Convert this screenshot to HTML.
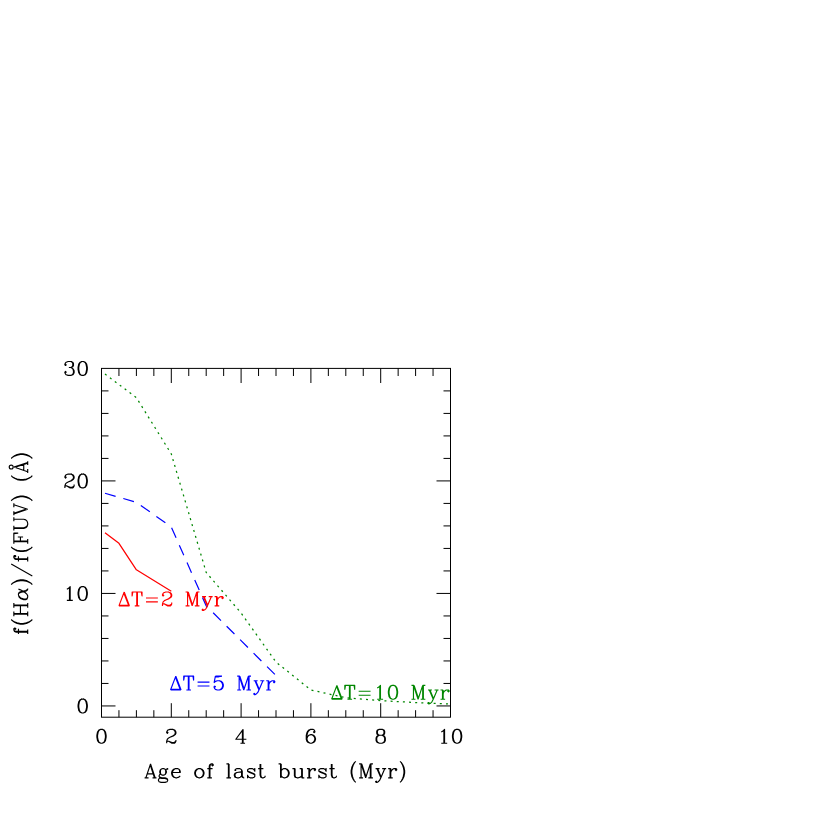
<!DOCTYPE html>
<html><head><meta charset="utf-8"><title>chart</title>
<style>html,body{margin:0;padding:0;background:#fff;font-family:"Liberation Sans",sans-serif}svg{display:block}</style>
</head><body>
<svg width="817" height="817" viewBox="0 0 817 817">
<rect width="817" height="817" fill="#fff"/>
<rect x="101.5" y="368.4" width="349.0" height="348.80" fill="none" stroke="#000" stroke-width="1"/>
<path d="M118.95 717.2 v-7 M118.95 368.4 v7.6 M136.40 717.2 v-7 M136.40 368.4 v7.6 M153.85 717.2 v-7 M153.85 368.4 v7.6 M171.30 717.2 v-14 M171.30 368.4 v14.6 M188.75 717.2 v-7 M188.75 368.4 v7.6 M206.20 717.2 v-7 M206.20 368.4 v7.6 M223.65 717.2 v-7 M223.65 368.4 v7.6 M241.10 717.2 v-14 M241.10 368.4 v14.6 M258.55 717.2 v-7 M258.55 368.4 v7.6 M276.00 717.2 v-7 M276.00 368.4 v7.6 M293.45 717.2 v-7 M293.45 368.4 v7.6 M310.90 717.2 v-14 M310.90 368.4 v14.6 M328.35 717.2 v-7 M328.35 368.4 v7.6 M345.80 717.2 v-7 M345.80 368.4 v7.6 M363.25 717.2 v-7 M363.25 368.4 v7.6 M380.70 717.2 v-14 M380.70 368.4 v14.6 M398.15 717.2 v-7 M398.15 368.4 v7.6 M415.60 717.2 v-7 M415.60 368.4 v7.6 M433.05 717.2 v-7 M433.05 368.4 v7.6 M101.5 705.95 h14 M450.5 705.95 h-14 M101.5 683.45 h7 M450.5 683.45 h-7 M101.5 660.94 h7 M450.5 660.94 h-7 M101.5 638.44 h7 M450.5 638.44 h-7 M101.5 615.94 h7 M450.5 615.94 h-7 M101.5 593.43 h14 M450.5 593.43 h-14 M101.5 570.93 h7 M450.5 570.93 h-7 M101.5 548.43 h7 M450.5 548.43 h-7 M101.5 525.92 h7 M450.5 525.92 h-7 M101.5 503.42 h7 M450.5 503.42 h-7 M101.5 480.92 h14 M450.5 480.92 h-14 M101.5 458.41 h7 M450.5 458.41 h-7 M101.5 435.91 h7 M450.5 435.91 h-7 M101.5 413.41 h7 M450.5 413.41 h-7 M101.5 390.90 h7 M450.5 390.90 h-7" fill="none" stroke="#000" stroke-width="1.0"/>
<path d="M104.99 532.67 L118.95 543.36 L136.40 569.80 L171.30 591.18" fill="none" stroke="#f00" stroke-width="1.25" stroke-linejoin="round"/>
<path d="M104.99 493.29 L136.40 502.29 L171.30 527.05 L206.20 605.81 L241.10 640.69 L276.00 675.57" fill="none" stroke="#00f" stroke-width="1.2" stroke-dasharray="11.05 8"/>
<path d="M104.99 374.03 L136.40 397.65 L171.30 453.91 L206.20 572.50 L241.10 613.01 L276.00 662.07 L310.90 689.97 L345.80 697.73 L380.70 700.66 L415.60 702.57 L450.50 704.04" fill="none" stroke="#008600" stroke-width="1.25" stroke-dasharray="2 4.16"/>
<path d="M100.84 729.34 L98.86 730.00 L97.54 731.98 L96.88 735.28 L96.88 737.26 L97.54 740.56 L98.86 742.54 L100.84 743.20 L102.16 743.20 L104.14 742.54 L105.46 740.56 L106.12 737.26 L106.12 735.28 L105.46 731.98 L104.14 730.00 L102.16 729.34 L100.84 729.34 M100.84 729.34 L99.52 730.00 L98.86 730.66 L98.20 731.98 L97.54 735.28 L97.54 737.26 L98.20 740.56 L98.86 741.88 L99.52 742.54 L100.84 743.20 M102.16 743.20 L103.48 742.54 L104.14 741.88 L104.80 740.56 L105.46 737.26 L105.46 735.28 L104.80 731.98 L104.14 730.66 L103.48 730.00 L102.16 729.34" fill="none" stroke="#000" stroke-width="1.15" stroke-linecap="butt" stroke-linejoin="round"/>
<path d="M167.34 731.98 L168.00 732.64 L167.34 733.30 L166.68 732.64 L166.68 731.98 L167.34 730.66 L168.00 730.00 L169.98 729.34 L172.62 729.34 L174.60 730.00 L175.26 730.66 L175.92 731.98 L175.92 733.30 L175.26 734.62 L173.28 735.94 L169.98 737.26 L168.66 737.92 L167.34 739.24 L166.68 741.22 L166.68 743.20 M172.62 729.34 L173.94 730.00 L174.60 730.66 L175.26 731.98 L175.26 733.30 L174.60 734.62 L172.62 735.94 L169.98 737.26 M166.68 741.88 L167.34 741.22 L168.66 741.22 L171.96 742.54 L173.94 742.54 L175.26 741.88 L175.92 741.22 M168.66 741.22 L171.96 743.20 L174.60 743.20 L175.26 742.54 L175.92 741.22 L175.92 739.90" fill="none" stroke="#000" stroke-width="1.15" stroke-linecap="butt" stroke-linejoin="round"/>
<path d="M242.42 730.66 L242.42 743.20 M243.08 729.34 L243.08 743.20 M243.08 729.34 L235.82 739.24 L246.38 739.24 M240.44 743.20 L245.06 743.20" fill="none" stroke="#000" stroke-width="1.15" stroke-linecap="butt" stroke-linejoin="round"/>
<path d="M314.20 731.32 L313.54 731.98 L314.20 732.64 L314.86 731.98 L314.86 731.32 L314.20 730.00 L312.88 729.34 L310.90 729.34 L308.92 730.00 L307.60 731.32 L306.94 732.64 L306.28 735.28 L306.28 739.24 L306.94 741.22 L308.26 742.54 L310.24 743.20 L311.56 743.20 L313.54 742.54 L314.86 741.22 L315.52 739.24 L315.52 738.58 L314.86 736.60 L313.54 735.28 L311.56 734.62 L310.90 734.62 L308.92 735.28 L307.60 736.60 L306.94 738.58 M310.90 729.34 L309.58 730.00 L308.26 731.32 L307.60 732.64 L306.94 735.28 L306.94 739.24 L307.60 741.22 L308.92 742.54 L310.24 743.20 M311.56 743.20 L312.88 742.54 L314.20 741.22 L314.86 739.24 L314.86 738.58 L314.20 736.60 L312.88 735.28 L311.56 734.62" fill="none" stroke="#000" stroke-width="1.15" stroke-linecap="butt" stroke-linejoin="round"/>
<path d="M379.38 729.34 L377.40 730.00 L376.74 731.32 L376.74 733.30 L377.40 734.62 L379.38 735.28 L382.02 735.28 L384.00 734.62 L384.66 733.30 L384.66 731.32 L384.00 730.00 L382.02 729.34 L379.38 729.34 M379.38 729.34 L378.06 730.00 L377.40 731.32 L377.40 733.30 L378.06 734.62 L379.38 735.28 M382.02 735.28 L383.34 734.62 L384.00 733.30 L384.00 731.32 L383.34 730.00 L382.02 729.34 M379.38 735.28 L377.40 735.94 L376.74 736.60 L376.08 737.92 L376.08 740.56 L376.74 741.88 L377.40 742.54 L379.38 743.20 L382.02 743.20 L384.00 742.54 L384.66 741.88 L385.32 740.56 L385.32 737.92 L384.66 736.60 L384.00 735.94 L382.02 735.28 M379.38 735.28 L378.06 735.94 L377.40 736.60 L376.74 737.92 L376.74 740.56 L377.40 741.88 L378.06 742.54 L379.38 743.20 M382.02 743.20 L383.34 742.54 L384.00 741.88 L384.66 740.56 L384.66 737.92 L384.00 736.60 L383.34 735.94 L382.02 735.28" fill="none" stroke="#000" stroke-width="1.15" stroke-linecap="butt" stroke-linejoin="round"/>
<path d="M441.26 731.98 L442.58 731.32 L444.56 729.34 L444.56 743.20 M443.90 730.00 L443.90 743.20 M441.26 743.20 L447.20 743.20 M456.44 729.34 L454.46 730.00 L453.14 731.98 L452.48 735.28 L452.48 737.26 L453.14 740.56 L454.46 742.54 L456.44 743.20 L457.76 743.20 L459.74 742.54 L461.06 740.56 L461.72 737.26 L461.72 735.28 L461.06 731.98 L459.74 730.00 L457.76 729.34 L456.44 729.34 M456.44 729.34 L455.12 730.00 L454.46 730.66 L453.80 731.98 L453.14 735.28 L453.14 737.26 L453.80 740.56 L454.46 741.88 L455.12 742.54 L456.44 743.20 M457.76 743.20 L459.08 742.54 L459.74 741.88 L460.40 740.56 L461.06 737.26 L461.06 735.28 L460.40 731.98 L459.74 730.66 L459.08 730.00 L457.76 729.34" fill="none" stroke="#000" stroke-width="1.15" stroke-linecap="butt" stroke-linejoin="round"/>
<path d="M82.04 699.09 L80.06 699.75 L78.74 701.73 L78.08 705.03 L78.08 707.01 L78.74 710.31 L80.06 712.29 L82.04 712.95 L83.36 712.95 L85.34 712.29 L86.66 710.31 L87.32 707.01 L87.32 705.03 L86.66 701.73 L85.34 699.75 L83.36 699.09 L82.04 699.09 M82.04 699.09 L80.72 699.75 L80.06 700.41 L79.40 701.73 L78.74 705.03 L78.74 707.01 L79.40 710.31 L80.06 711.63 L80.72 712.29 L82.04 712.95 M83.36 712.95 L84.68 712.29 L85.34 711.63 L86.00 710.31 L86.66 707.01 L86.66 705.03 L86.00 701.73 L85.34 700.41 L84.68 699.75 L83.36 699.09" fill="none" stroke="#000" stroke-width="1.15" stroke-linecap="butt" stroke-linejoin="round"/>
<path d="M66.86 589.21 L68.18 588.55 L70.16 586.57 L70.16 600.43 M69.50 587.23 L69.50 600.43 M66.86 600.43 L72.80 600.43 M82.04 586.57 L80.06 587.23 L78.74 589.21 L78.08 592.51 L78.08 594.49 L78.74 597.79 L80.06 599.77 L82.04 600.43 L83.36 600.43 L85.34 599.77 L86.66 597.79 L87.32 594.49 L87.32 592.51 L86.66 589.21 L85.34 587.23 L83.36 586.57 L82.04 586.57 M82.04 586.57 L80.72 587.23 L80.06 587.89 L79.40 589.21 L78.74 592.51 L78.74 594.49 L79.40 597.79 L80.06 599.11 L80.72 599.77 L82.04 600.43 M83.36 600.43 L84.68 599.77 L85.34 599.11 L86.00 597.79 L86.66 594.49 L86.66 592.51 L86.00 589.21 L85.34 587.89 L84.68 587.23 L83.36 586.57" fill="none" stroke="#000" stroke-width="1.15" stroke-linecap="butt" stroke-linejoin="round"/>
<path d="M65.54 476.70 L66.20 477.36 L65.54 478.02 L64.88 477.36 L64.88 476.70 L65.54 475.38 L66.20 474.72 L68.18 474.06 L70.82 474.06 L72.80 474.72 L73.46 475.38 L74.12 476.70 L74.12 478.02 L73.46 479.34 L71.48 480.66 L68.18 481.98 L66.86 482.64 L65.54 483.96 L64.88 485.94 L64.88 487.92 M70.82 474.06 L72.14 474.72 L72.80 475.38 L73.46 476.70 L73.46 478.02 L72.80 479.34 L70.82 480.66 L68.18 481.98 M64.88 486.60 L65.54 485.94 L66.86 485.94 L70.16 487.26 L72.14 487.26 L73.46 486.60 L74.12 485.94 M66.86 485.94 L70.16 487.92 L72.80 487.92 L73.46 487.26 L74.12 485.94 L74.12 484.62 M82.04 474.06 L80.06 474.72 L78.74 476.70 L78.08 480.00 L78.08 481.98 L78.74 485.28 L80.06 487.26 L82.04 487.92 L83.36 487.92 L85.34 487.26 L86.66 485.28 L87.32 481.98 L87.32 480.00 L86.66 476.70 L85.34 474.72 L83.36 474.06 L82.04 474.06 M82.04 474.06 L80.72 474.72 L80.06 475.38 L79.40 476.70 L78.74 480.00 L78.74 481.98 L79.40 485.28 L80.06 486.60 L80.72 487.26 L82.04 487.92 M83.36 487.92 L84.68 487.26 L85.34 486.60 L86.00 485.28 L86.66 481.98 L86.66 480.00 L86.00 476.70 L85.34 475.38 L84.68 474.72 L83.36 474.06" fill="none" stroke="#000" stroke-width="1.15" stroke-linecap="butt" stroke-linejoin="round"/>
<path d="M65.54 364.18 L66.20 364.84 L65.54 365.50 L64.88 364.84 L64.88 364.18 L65.54 362.86 L66.20 362.20 L68.18 361.54 L70.82 361.54 L72.80 362.20 L73.46 363.52 L73.46 365.50 L72.80 366.82 L70.82 367.48 L68.84 367.48 M70.82 361.54 L72.14 362.20 L72.80 363.52 L72.80 365.50 L72.14 366.82 L70.82 367.48 M70.82 367.48 L72.14 368.14 L73.46 369.46 L74.12 370.78 L74.12 372.76 L73.46 374.08 L72.80 374.74 L70.82 375.40 L68.18 375.40 L66.20 374.74 L65.54 374.08 L64.88 372.76 L64.88 372.10 L65.54 371.44 L66.20 372.10 L65.54 372.76 M72.80 368.80 L73.46 370.78 L73.46 372.76 L72.80 374.08 L72.14 374.74 L70.82 375.40 M82.04 361.54 L80.06 362.20 L78.74 364.18 L78.08 367.48 L78.08 369.46 L78.74 372.76 L80.06 374.74 L82.04 375.40 L83.36 375.40 L85.34 374.74 L86.66 372.76 L87.32 369.46 L87.32 367.48 L86.66 364.18 L85.34 362.20 L83.36 361.54 L82.04 361.54 M82.04 361.54 L80.72 362.20 L80.06 362.86 L79.40 364.18 L78.74 367.48 L78.74 369.46 L79.40 372.76 L80.06 374.08 L80.72 374.74 L82.04 375.40 M83.36 375.40 L84.68 374.74 L85.34 374.08 L86.00 372.76 L86.66 369.46 L86.66 367.48 L86.00 364.18 L85.34 362.86 L84.68 362.20 L83.36 361.54" fill="none" stroke="#000" stroke-width="1.15" stroke-linecap="butt" stroke-linejoin="round"/>
<path d="M150.53 763.94 L145.91 777.80 M150.53 763.94 L155.15 777.80 M150.53 765.92 L154.49 777.80 M147.23 773.84 L153.17 773.84 M144.59 777.80 L148.55 777.80 M152.51 777.80 L156.47 777.80 M162.41 768.56 L161.09 769.22 L160.43 769.88 L159.77 771.20 L159.77 772.52 L160.43 773.84 L161.09 774.50 L162.41 775.16 L163.73 775.16 L165.05 774.50 L165.71 773.84 L166.37 772.52 L166.37 771.20 L165.71 769.88 L165.05 769.22 L163.73 768.56 L162.41 768.56 M161.09 769.22 L160.43 770.54 L160.43 773.18 L161.09 774.50 M165.05 774.50 L165.71 773.18 L165.71 770.54 L165.05 769.22 M165.71 769.88 L166.37 769.22 L167.69 768.56 L167.69 769.22 L166.37 769.22 M160.43 773.84 L159.77 774.50 L159.11 775.82 L159.11 776.48 L159.77 777.80 L161.75 778.46 L165.05 778.46 L167.03 779.12 L167.69 779.78 M159.11 776.48 L159.77 777.14 L161.75 777.80 L165.05 777.80 L167.03 778.46 L167.69 779.78 L167.69 780.44 L167.03 781.76 L165.05 782.42 L161.09 782.42 L159.11 781.76 L158.45 780.44 L158.45 779.78 L159.11 778.46 L161.09 777.80 M172.31 772.52 L180.23 772.52 L180.23 771.20 L179.57 769.88 L178.91 769.22 L177.59 768.56 L175.61 768.56 L173.63 769.22 L172.31 770.54 L171.65 772.52 L171.65 773.84 L172.31 775.82 L173.63 777.14 L175.61 777.80 L176.93 777.80 L178.91 777.14 L180.23 775.82 M179.57 772.52 L179.57 770.54 L178.91 769.22 M175.61 768.56 L174.29 769.22 L172.97 770.54 L172.31 772.52 L172.31 773.84 L172.97 775.82 L174.29 777.14 L175.61 777.80 M198.71 768.56 L196.73 769.22 L195.41 770.54 L194.75 772.52 L194.75 773.84 L195.41 775.82 L196.73 777.14 L198.71 777.80 L200.03 777.80 L202.01 777.14 L203.33 775.82 L203.99 773.84 L203.99 772.52 L203.33 770.54 L202.01 769.22 L200.03 768.56 L198.71 768.56 M198.71 768.56 L197.39 769.22 L196.07 770.54 L195.41 772.52 L195.41 773.84 L196.07 775.82 L197.39 777.14 L198.71 777.80 M200.03 777.80 L201.35 777.14 L202.67 775.82 L203.33 773.84 L203.33 772.52 L202.67 770.54 L201.35 769.22 L200.03 768.56 M212.57 764.60 L211.91 765.26 L212.57 765.92 L213.23 765.26 L213.23 764.60 L212.57 763.94 L211.25 763.94 L209.93 764.60 L209.27 765.92 L209.27 777.80 M211.25 763.94 L210.59 764.60 L209.93 765.92 L209.93 777.80 M207.29 768.56 L212.57 768.56 M207.29 777.80 L211.91 777.80 M228.41 763.94 L228.41 777.80 M229.07 763.94 L229.07 777.80 M226.43 763.94 L229.07 763.94 M226.43 777.80 L231.05 777.80 M235.67 769.88 L235.67 770.54 L235.01 770.54 L235.01 769.88 L235.67 769.22 L236.99 768.56 L239.63 768.56 L240.95 769.22 L241.61 769.88 L242.27 771.20 L242.27 775.82 L242.93 777.14 L243.59 777.80 M241.61 769.88 L241.61 775.82 L242.27 777.14 L243.59 777.80 L244.25 777.80 M241.61 771.20 L240.95 771.86 L236.99 772.52 L235.01 773.18 L234.35 774.50 L234.35 775.82 L235.01 777.14 L236.99 777.80 L238.97 777.80 L240.29 777.14 L241.61 775.82 M236.99 772.52 L235.67 773.18 L235.01 774.50 L235.01 775.82 L235.67 777.14 L236.99 777.80 M254.15 769.88 L254.81 768.56 L254.81 771.20 L254.15 769.88 L253.49 769.22 L252.17 768.56 L249.53 768.56 L248.21 769.22 L247.55 769.88 L247.55 771.20 L248.21 771.86 L249.53 772.52 L252.83 773.84 L254.15 774.50 L254.81 775.16 M247.55 770.54 L248.21 771.20 L249.53 771.86 L252.83 773.18 L254.15 773.84 L254.81 774.50 L254.81 776.48 L254.15 777.14 L252.83 777.80 L250.19 777.80 L248.87 777.14 L248.21 776.48 L247.55 775.16 L247.55 777.80 L248.21 776.48 M260.09 763.94 L260.09 775.16 L260.75 777.14 L262.07 777.80 L263.39 777.80 L264.71 777.14 L265.37 775.82 M260.75 763.94 L260.75 775.16 L261.41 777.14 L262.07 777.80 M258.11 768.56 L263.39 768.56 M280.55 763.94 L280.55 777.80 M281.21 763.94 L281.21 777.80 M281.21 770.54 L282.53 769.22 L283.85 768.56 L285.17 768.56 L287.15 769.22 L288.47 770.54 L289.13 772.52 L289.13 773.84 L288.47 775.82 L287.15 777.14 L285.17 777.80 L283.85 777.80 L282.53 777.14 L281.21 775.82 M285.17 768.56 L286.49 769.22 L287.81 770.54 L288.47 772.52 L288.47 773.84 L287.81 775.82 L286.49 777.14 L285.17 777.80 M278.57 763.94 L281.21 763.94 M294.41 768.56 L294.41 775.82 L295.07 777.14 L297.05 777.80 L298.37 777.80 L300.35 777.14 L301.67 775.82 M295.07 768.56 L295.07 775.82 L295.73 777.14 L297.05 777.80 M301.67 768.56 L301.67 777.80 M302.33 768.56 L302.33 777.80 M292.43 768.56 L295.07 768.56 M299.69 768.56 L302.33 768.56 M301.67 777.80 L304.31 777.80 M308.93 768.56 L308.93 777.80 M309.59 768.56 L309.59 777.80 M309.59 772.52 L310.25 770.54 L311.57 769.22 L312.89 768.56 L314.87 768.56 L315.53 769.22 L315.53 769.88 L314.87 770.54 L314.21 769.88 L314.87 769.22 M306.95 768.56 L309.59 768.56 M306.95 777.80 L311.57 777.80 M325.43 769.88 L326.09 768.56 L326.09 771.20 L325.43 769.88 L324.77 769.22 L323.45 768.56 L320.81 768.56 L319.49 769.22 L318.83 769.88 L318.83 771.20 L319.49 771.86 L320.81 772.52 L324.11 773.84 L325.43 774.50 L326.09 775.16 M318.83 770.54 L319.49 771.20 L320.81 771.86 L324.11 773.18 L325.43 773.84 L326.09 774.50 L326.09 776.48 L325.43 777.14 L324.11 777.80 L321.47 777.80 L320.15 777.14 L319.49 776.48 L318.83 775.16 L318.83 777.80 L319.49 776.48 M331.37 763.94 L331.37 775.16 L332.03 777.14 L333.35 777.80 L334.67 777.80 L335.99 777.14 L336.65 775.82 M332.03 763.94 L332.03 775.16 L332.69 777.14 L333.35 777.80 M329.39 768.56 L334.67 768.56 M355.79 761.30 L354.47 762.62 L353.15 764.60 L351.83 767.24 L351.17 770.54 L351.17 773.18 L351.83 776.48 L353.15 779.12 L354.47 781.10 L355.79 782.42 M354.47 762.62 L353.15 765.26 L352.49 767.24 L351.83 770.54 L351.83 773.18 L352.49 776.48 L353.15 778.46 L354.47 781.10 M361.07 763.94 L361.07 777.80 M361.73 763.94 L365.69 775.82 M361.07 763.94 L365.69 777.80 M370.31 763.94 L365.69 777.80 M370.31 763.94 L370.31 777.80 M370.97 763.94 L370.97 777.80 M359.09 763.94 L361.73 763.94 M370.31 763.94 L372.95 763.94 M359.09 777.80 L363.05 777.80 M368.33 777.80 L372.95 777.80 M376.91 768.56 L380.87 777.80 M377.57 768.56 L380.87 776.48 M384.83 768.56 L380.87 777.80 L379.55 780.44 L378.23 781.76 L376.91 782.42 L376.25 782.42 L375.59 781.76 L376.25 781.10 L376.91 781.76 M375.59 768.56 L379.55 768.56 M382.19 768.56 L386.15 768.56 M390.11 768.56 L390.11 777.80 M390.77 768.56 L390.77 777.80 M390.77 772.52 L391.43 770.54 L392.75 769.22 L394.07 768.56 L396.05 768.56 L396.71 769.22 L396.71 769.88 L396.05 770.54 L395.39 769.88 L396.05 769.22 M388.13 768.56 L390.77 768.56 M388.13 777.80 L392.75 777.80 M400.01 761.30 L401.33 762.62 L402.65 764.60 L403.97 767.24 L404.63 770.54 L404.63 773.18 L403.97 776.48 L402.65 779.12 L401.33 781.10 L400.01 782.42 M401.33 762.62 L402.65 765.26 L403.31 767.24 L403.97 770.54 L403.97 773.18 L403.31 776.48 L402.65 778.46 L401.33 781.10" fill="none" stroke="#000" stroke-width="1.15" stroke-linecap="butt" stroke-linejoin="round"/>
<path d="M-85.47 -13.20 L-86.13 -12.54 L-85.47 -11.88 L-84.81 -12.54 L-84.81 -13.20 L-85.47 -13.86 L-86.79 -13.86 L-88.11 -13.20 L-88.77 -11.88 L-88.77 0.00 M-86.79 -13.86 L-87.45 -13.20 L-88.11 -11.88 L-88.11 0.00 M-90.75 -9.24 L-85.47 -9.24 M-90.75 0.00 L-86.13 0.00 M-76.23 -16.50 L-77.55 -15.18 L-78.87 -13.20 L-80.19 -10.56 L-80.85 -7.26 L-80.85 -4.62 L-80.19 -1.32 L-78.87 1.32 L-77.55 3.30 L-76.23 4.62 M-77.55 -15.18 L-78.87 -12.54 L-79.53 -10.56 L-80.19 -7.26 L-80.19 -4.62 L-79.53 -1.32 L-78.87 0.66 L-77.55 3.30 M-70.95 -13.86 L-70.95 0.00 M-70.29 -13.86 L-70.29 0.00 M-62.37 -13.86 L-62.37 0.00 M-61.71 -13.86 L-61.71 0.00 M-72.93 -13.86 L-68.31 -13.86 M-64.35 -13.86 L-59.73 -13.86 M-70.29 -7.26 L-62.37 -7.26 M-72.93 0.00 L-68.31 0.00 M-64.35 0.00 L-59.73 0.00 M-51.81 -9.24 L-53.79 -8.58 L-55.11 -7.26 L-55.77 -5.94 L-56.43 -3.96 L-56.43 -1.98 L-55.77 -0.66 L-53.79 0.00 L-52.47 0.00 L-51.15 -0.66 L-49.17 -2.64 L-47.85 -4.62 L-46.53 -7.26 L-45.87 -9.24 M-51.81 -9.24 L-53.13 -8.58 L-54.45 -7.26 L-55.11 -5.94 L-55.77 -3.96 L-55.77 -1.98 L-55.11 -0.66 L-53.79 0.00 M-51.81 -9.24 L-50.49 -9.24 L-49.17 -8.58 L-48.51 -7.26 L-47.19 -1.98 L-46.53 -0.66 L-45.87 0.00 M-50.49 -9.24 L-49.83 -8.58 L-49.17 -7.26 L-47.85 -1.98 L-47.19 -0.66 L-45.87 0.00 L-45.21 0.00 M-41.25 -16.50 L-39.93 -15.18 L-38.61 -13.20 L-37.29 -10.56 L-36.63 -7.26 L-36.63 -4.62 L-37.29 -1.32 L-38.61 1.32 L-39.93 3.30 L-41.25 4.62 M-39.93 -15.18 L-38.61 -12.54 L-37.95 -10.56 L-37.29 -7.26 L-37.29 -4.62 L-37.95 -1.32 L-38.61 0.66 L-39.93 3.30 M-20.79 -16.50 L-32.67 4.62 M-12.87 -13.20 L-13.53 -12.54 L-12.87 -11.88 L-12.21 -12.54 L-12.21 -13.20 L-12.87 -13.86 L-14.19 -13.86 L-15.51 -13.20 L-16.17 -11.88 L-16.17 0.00 M-14.19 -13.86 L-14.85 -13.20 L-15.51 -11.88 L-15.51 0.00 M-18.15 -9.24 L-12.87 -9.24 M-18.15 0.00 L-13.53 0.00 M-3.63 -16.50 L-4.95 -15.18 L-6.27 -13.20 L-7.59 -10.56 L-8.25 -7.26 L-8.25 -4.62 L-7.59 -1.32 L-6.27 1.32 L-4.95 3.30 L-3.63 4.62 M-4.95 -15.18 L-6.27 -12.54 L-6.93 -10.56 L-7.59 -7.26 L-7.59 -4.62 L-6.93 -1.32 L-6.27 0.66 L-4.95 3.30 M1.65 -13.86 L1.65 0.00 M2.31 -13.86 L2.31 0.00 M6.27 -9.90 L6.27 -4.62 M-0.33 -13.86 L10.23 -13.86 L10.23 -9.90 L9.57 -13.86 M2.31 -7.26 L6.27 -7.26 M-0.33 0.00 L4.29 0.00 M14.85 -13.86 L14.85 -3.96 L15.51 -1.98 L16.83 -0.66 L18.81 0.00 L20.13 0.00 L22.11 -0.66 L23.43 -1.98 L24.09 -3.96 L24.09 -13.86 M15.51 -13.86 L15.51 -3.96 L16.17 -1.98 L17.49 -0.66 L18.81 0.00 M12.87 -13.86 L17.49 -13.86 M22.11 -13.86 L26.07 -13.86 M29.37 -13.86 L33.99 0.00 M30.03 -13.86 L33.99 -1.98 M38.61 -13.86 L33.99 0.00 M28.05 -13.86 L32.01 -13.86 M35.97 -13.86 L39.93 -13.86 M42.57 -16.50 L43.89 -15.18 L45.21 -13.20 L46.53 -10.56 L47.19 -7.26 L47.19 -4.62 L46.53 -1.32 L45.21 1.32 L43.89 3.30 L42.57 4.62 M43.89 -15.18 L45.21 -12.54 L45.87 -10.56 L46.53 -7.26 L46.53 -4.62 L45.87 -1.32 L45.21 0.66 L43.89 3.30 M67.65 -16.50 L66.33 -15.18 L65.01 -13.20 L63.69 -10.56 L63.03 -7.26 L63.03 -4.62 L63.69 -1.32 L65.01 1.32 L66.33 3.30 L67.65 4.62 M66.33 -15.18 L65.01 -12.54 L64.35 -10.56 L63.69 -7.26 L63.69 -4.62 L64.35 -1.32 L65.01 0.66 L66.33 3.30 M76.23 -13.86 L71.61 0.00 M76.23 -13.86 L80.85 0.00 M76.23 -11.88 L80.19 0.00 M72.93 -3.96 L78.87 -3.96 M70.29 0.00 L74.25 0.00 M78.21 0.00 L82.17 0.00 M84.81 -16.50 L86.13 -15.18 L87.45 -13.20 L88.77 -10.56 L89.43 -7.26 L89.43 -4.62 L88.77 -1.32 L87.45 1.32 L86.13 3.30 L84.81 4.62 M86.13 -15.18 L87.45 -12.54 L88.11 -10.56 L88.77 -7.26 L88.77 -4.62 L88.11 -1.32 L87.45 0.66 L86.13 3.30" fill="none" stroke="#000" stroke-width="1.15" stroke-linecap="butt" stroke-linejoin="round" transform="translate(27.7 543.3) rotate(-90)"/>
<circle cx="76.23" cy="-16.50" r="1.98" fill="none" stroke="#000" stroke-width="1.15" transform="translate(27.7 543.3) rotate(-90)"/>
<path d="M124.20 592.04 L118.92 605.90 M124.20 592.04 L129.48 605.90 M124.20 594.02 L128.82 605.90 M119.58 605.24 L128.82 605.24 M118.92 605.90 L129.48 605.90 M136.74 592.04 L136.74 605.90 M137.40 592.04 L137.40 605.90 M132.78 592.04 L132.12 596.00 L132.12 592.04 L142.02 592.04 L142.02 596.00 L141.36 592.04 M134.76 605.90 L139.38 605.90 M145.98 597.98 L157.86 597.98 M145.98 601.94 L157.86 601.94 M163.14 594.68 L163.80 595.34 L163.14 596.00 L162.48 595.34 L162.48 594.68 L163.14 593.36 L163.80 592.70 L165.78 592.04 L168.42 592.04 L170.40 592.70 L171.06 593.36 L171.72 594.68 L171.72 596.00 L171.06 597.32 L169.08 598.64 L165.78 599.96 L164.46 600.62 L163.14 601.94 L162.48 603.92 L162.48 605.90 M168.42 592.04 L169.74 592.70 L170.40 593.36 L171.06 594.68 L171.06 596.00 L170.40 597.32 L168.42 598.64 L165.78 599.96 M162.48 604.58 L163.14 603.92 L164.46 603.92 L167.76 605.24 L169.74 605.24 L171.06 604.58 L171.72 603.92 M164.46 603.92 L167.76 605.90 L170.40 605.90 L171.06 605.24 L171.72 603.92 L171.72 602.60 M187.56 592.04 L187.56 605.90 M188.22 592.04 L192.18 603.92 M187.56 592.04 L192.18 605.90 M196.80 592.04 L192.18 605.90 M196.80 592.04 L196.80 605.90 M197.46 592.04 L197.46 605.90 M185.58 592.04 L188.22 592.04 M196.80 592.04 L199.44 592.04 M185.58 605.90 L189.54 605.90 M194.82 605.90 L199.44 605.90 M203.40 596.66 L207.36 605.90 M204.06 596.66 L207.36 604.58 M211.32 596.66 L207.36 605.90 L206.04 608.54 L204.72 609.86 L203.40 610.52 L202.74 610.52 L202.08 609.86 L202.74 609.20 L203.40 609.86 M202.08 596.66 L206.04 596.66 M208.68 596.66 L212.64 596.66 M216.60 596.66 L216.60 605.90 M217.26 596.66 L217.26 605.90 M217.26 600.62 L217.92 598.64 L219.24 597.32 L220.56 596.66 L222.54 596.66 L223.20 597.32 L223.20 597.98 L222.54 598.64 L221.88 597.98 L222.54 597.32 M214.62 596.66 L217.26 596.66 M214.62 605.90 L219.24 605.90" fill="none" stroke="#f00" stroke-width="1.15" stroke-linecap="butt" stroke-linejoin="round"/>
<path d="M175.80 676.14 L170.52 690.00 M175.80 676.14 L181.08 690.00 M175.80 678.12 L180.42 690.00 M171.18 689.34 L180.42 689.34 M170.52 690.00 L181.08 690.00 M188.34 676.14 L188.34 690.00 M189.00 676.14 L189.00 690.00 M184.38 676.14 L183.72 680.10 L183.72 676.14 L193.62 676.14 L193.62 680.10 L192.96 676.14 M186.36 690.00 L190.98 690.00 M197.58 682.08 L209.46 682.08 M197.58 686.04 L209.46 686.04 M215.40 676.14 L214.08 682.74 M214.08 682.74 L215.40 681.42 L217.38 680.76 L219.36 680.76 L221.34 681.42 L222.66 682.74 L223.32 684.72 L223.32 686.04 L222.66 688.02 L221.34 689.34 L219.36 690.00 L217.38 690.00 L215.40 689.34 L214.74 688.68 L214.08 687.36 L214.08 686.70 L214.74 686.04 L215.40 686.70 L214.74 687.36 M219.36 680.76 L220.68 681.42 L222.00 682.74 L222.66 684.72 L222.66 686.04 L222.00 688.02 L220.68 689.34 L219.36 690.00 M215.40 676.14 L222.00 676.14 M215.40 676.80 L218.70 676.80 L222.00 676.14 M239.16 676.14 L239.16 690.00 M239.82 676.14 L243.78 688.02 M239.16 676.14 L243.78 690.00 M248.40 676.14 L243.78 690.00 M248.40 676.14 L248.40 690.00 M249.06 676.14 L249.06 690.00 M237.18 676.14 L239.82 676.14 M248.40 676.14 L251.04 676.14 M237.18 690.00 L241.14 690.00 M246.42 690.00 L251.04 690.00 M255.00 680.76 L258.96 690.00 M255.66 680.76 L258.96 688.68 M262.92 680.76 L258.96 690.00 L257.64 692.64 L256.32 693.96 L255.00 694.62 L254.34 694.62 L253.68 693.96 L254.34 693.30 L255.00 693.96 M253.68 680.76 L257.64 680.76 M260.28 680.76 L264.24 680.76 M268.20 680.76 L268.20 690.00 M268.86 680.76 L268.86 690.00 M268.86 684.72 L269.52 682.74 L270.84 681.42 L272.16 680.76 L274.14 680.76 L274.80 681.42 L274.80 682.08 L274.14 682.74 L273.48 682.08 L274.14 681.42 M266.22 680.76 L268.86 680.76 M266.22 690.00 L270.84 690.00" fill="none" stroke="#00f" stroke-width="1.15" stroke-linecap="butt" stroke-linejoin="round"/>
<path d="M336.90 685.34 L331.62 699.20 M336.90 685.34 L342.18 699.20 M336.90 687.32 L341.52 699.20 M332.28 698.54 L341.52 698.54 M331.62 699.20 L342.18 699.20 M349.44 685.34 L349.44 699.20 M350.10 685.34 L350.10 699.20 M345.48 685.34 L344.82 689.30 L344.82 685.34 L354.72 685.34 L354.72 689.30 L354.06 685.34 M347.46 699.20 L352.08 699.20 M358.68 691.28 L370.56 691.28 M358.68 695.24 L370.56 695.24 M377.16 687.98 L378.48 687.32 L380.46 685.34 L380.46 699.20 M379.80 686.00 L379.80 699.20 M377.16 699.20 L383.10 699.20 M392.34 685.34 L390.36 686.00 L389.04 687.98 L388.38 691.28 L388.38 693.26 L389.04 696.56 L390.36 698.54 L392.34 699.20 L393.66 699.20 L395.64 698.54 L396.96 696.56 L397.62 693.26 L397.62 691.28 L396.96 687.98 L395.64 686.00 L393.66 685.34 L392.34 685.34 M392.34 685.34 L391.02 686.00 L390.36 686.66 L389.70 687.98 L389.04 691.28 L389.04 693.26 L389.70 696.56 L390.36 697.88 L391.02 698.54 L392.34 699.20 M393.66 699.20 L394.98 698.54 L395.64 697.88 L396.30 696.56 L396.96 693.26 L396.96 691.28 L396.30 687.98 L395.64 686.66 L394.98 686.00 L393.66 685.34 M413.46 685.34 L413.46 699.20 M414.12 685.34 L418.08 697.22 M413.46 685.34 L418.08 699.20 M422.70 685.34 L418.08 699.20 M422.70 685.34 L422.70 699.20 M423.36 685.34 L423.36 699.20 M411.48 685.34 L414.12 685.34 M422.70 685.34 L425.34 685.34 M411.48 699.20 L415.44 699.20 M420.72 699.20 L425.34 699.20 M429.30 689.96 L433.26 699.20 M429.96 689.96 L433.26 697.88 M437.22 689.96 L433.26 699.20 L431.94 701.84 L430.62 703.16 L429.30 703.82 L428.64 703.82 L427.98 703.16 L428.64 702.50 L429.30 703.16 M427.98 689.96 L431.94 689.96 M434.58 689.96 L438.54 689.96 M442.50 689.96 L442.50 699.20 M443.16 689.96 L443.16 699.20 M443.16 693.92 L443.82 691.94 L445.14 690.62 L446.46 689.96 L448.44 689.96 L449.10 690.62 L449.10 691.28 L448.44 691.94 L447.78 691.28 L448.44 690.62 M440.52 689.96 L443.16 689.96 M440.52 699.20 L445.14 699.20" fill="none" stroke="#008600" stroke-width="1.15" stroke-linecap="butt" stroke-linejoin="round"/>
</svg>
</body></html>
